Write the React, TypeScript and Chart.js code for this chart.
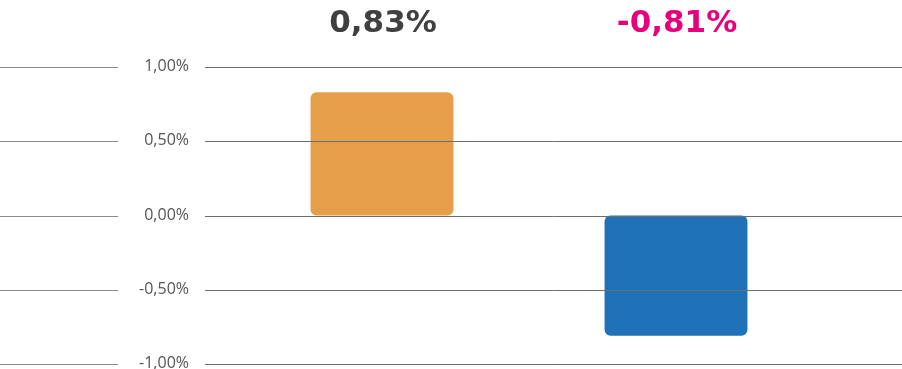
import React, { useEffect, useRef } from "react";
import { Chart, registerables } from "chart.js";

Chart.register(...registerables);

const categories = ["A", "B"];
const values = [0.83, -0.81];
const barColors = ["#E59F4A", "#1F72B8"];
const valueLabelColors = ["#404040", "#E6007E"];
const tickValues = [1, 0.5, 0, -0.5, -1];

const fmt = (v: number) => v.toFixed(2).replace(".", ",") + "%";

const customPlugin = {
  id: "customDraw",
  afterDatasetsDraw(chart: any) {
    const ctx = chart.ctx;
    const y = chart.scales.y;
    const x = chart.scales.x;
    ctx.save();
    tickValues.forEach((v) => {
      const py = Math.round(y.getPixelForValue(v)) + 0.5;
      ctx.lineWidth = 1;
      ctx.strokeStyle = "#8a8a8a";
      ctx.beginPath();
      ctx.moveTo(0, py);
      ctx.lineTo(118, py);
      ctx.stroke();
      ctx.strokeStyle = "#6e6e6e";
      ctx.beginPath();
      ctx.moveTo(205, py);
      ctx.lineTo(chart.width, py);
      ctx.stroke();
      ctx.fillStyle = "#555555";
      ctx.font = "16px 'Open Sans'";
      ctx.textAlign = "right";
      ctx.textBaseline = "alphabetic";
      ctx.fillText(fmt(v), 189, py + 3.5);
    });
    values.forEach((v, i) => {
      const px = x.getPixelForValue(i);
      ctx.fillStyle = valueLabelColors[i];
      ctx.font = "bold 31px 'DejaVu Sans'";
      ctx.textAlign = "center";
      ctx.textBaseline = "alphabetic";
      ctx.fillText(fmt(v), px + 1, 32);
    });
    ctx.restore();
  },
};

export default function App() {
  const ref = useRef<HTMLCanvasElement>(null);
  useEffect(() => {
    document.body.style.margin = "0";
    const chart = new Chart(ref.current!, {
      type: "bar",
      data: {
        labels: categories,
        datasets: [
          {
            data: values,
            backgroundColor: barColors,
            borderRadius: 6,
            borderSkipped: false,
            barPercentage: 0.486,
            categoryPercentage: 1,
          },
        ],
      },
      options: {
        animation: false,
        responsive: false,
        maintainAspectRatio: false,
        layout: { padding: { left: 235, right: 79, top: 67, bottom: 5 } },
        plugins: { legend: { display: false }, tooltip: { enabled: false } },
        scales: {
          x: { display: false },
          y: { display: false, min: -1, max: 1 },
        },
      },
      plugins: [customPlugin],
    });
    return () => chart.destroy();
  }, []);
  return (
    <div style={{ width: 902, height: 369 }}>
      <canvas ref={ref} width={902} height={369} style={{ display: "block" }} />
    </div>
  );
}
